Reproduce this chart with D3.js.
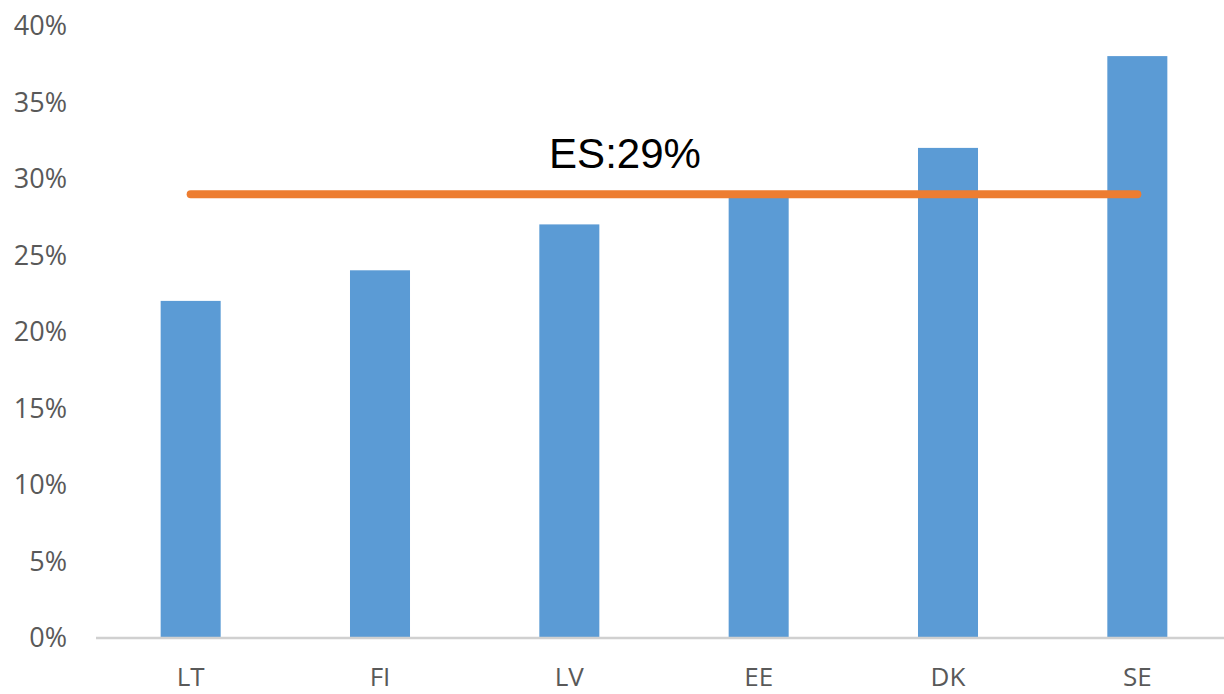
<!DOCTYPE html>
<html><head><meta charset="utf-8">
<script src="https://cdn.jsdelivr.net/npm/d3@7"></script>
<style>
html,body{margin:0;padding:0;background:#fff;overflow:hidden}
svg{display:block}
</style></head>
<body>
<svg id="chart" width="1224" height="694"></svg>
<script>
const categories = ["LT","FI","LV","EE","DK","SE"];
const values = [22, 24, 27, 29, 32, 38];
const refLabel = "ES:29%";
const refValue = 29;
const yTicks = [0,5,10,15,20,25,30,35,40];

const svg = d3.select("#chart");
const x = d3.scaleBand().domain(categories).range([96, 1232]).paddingInner(0.683).paddingOuter(0.3415);
const y = d3.scaleLinear().domain([0, 40]).range([637.5, 25.5]);

// y tick labels
const yAxis = d3.axisLeft(y).tickValues(yTicks).tickFormat(d => d + "%").tickSize(0).tickPadding(0);
const gy = svg.append("g").attr("transform","translate(67,0)").call(yAxis);
gy.select(".domain").remove();
gy.selectAll("text").attr("fill","#595959").style("font-family","'Open Sans', sans-serif").style("font-size","27px").attr("dy","0.34em");

// bars
svg.append("g").selectAll("rect").data(values).join("rect")
  .attr("x",(d,i)=>x(categories[i]))
  .attr("width",x.bandwidth())
  .attr("y",d=>y(d))
  .attr("height",d=>y(0)-y(d))
  .attr("fill","#5B9BD5");

// x axis line
svg.append("line").attr("x1",96).attr("x2",1224).attr("y1",y(0)+0.5).attr("y2",y(0)+0.5)
  .attr("stroke","#D0D0D0").attr("stroke-width",2.5);

// x labels
const xAxis = d3.axisBottom(x).tickSize(0).tickPadding(0);
const gx = svg.append("g").attr("transform","translate(0,686)").call(xAxis);
gx.select(".domain").remove();
gx.selectAll("text").attr("fill","#595959").attr("dy","0").attr("y",0).style("font-family","'Open Sans', sans-serif").style("font-size","26px");

// reference line
const xc = c => x(c) + x.bandwidth()/2;
svg.append("line")
  .attr("x1", xc(categories[0])).attr("x2", xc(categories[categories.length-1]))
  .attr("y1", y(refValue)+0.5).attr("y2", y(refValue)+0.5)
  .attr("stroke","#ED7D31").attr("stroke-width",8).attr("stroke-linecap","round");

svg.append("text").attr("x",625).attr("y",168).attr("text-anchor","middle")
  .attr("fill","#000").style("font-family","'Liberation Sans', Arial, sans-serif").style("font-size","42px")
  .text(refLabel);
</script>
</body></html>
